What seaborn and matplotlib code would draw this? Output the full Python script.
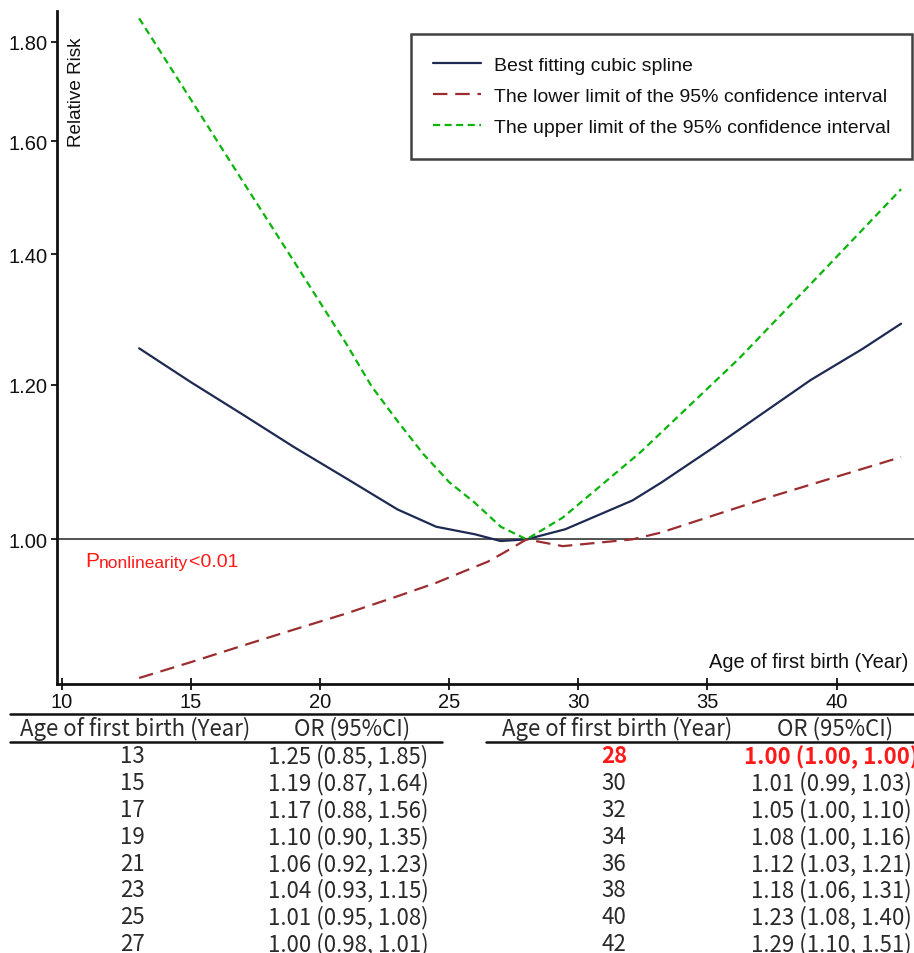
import matplotlib
matplotlib.use("Agg")
import matplotlib.pyplot as plt
from matplotlib.lines import Line2D
from matplotlib.ticker import FixedLocator, FuncFormatter, NullLocator
import seaborn as sns

# curves (age, relative risk)
age_fit = [13, 15, 17, 19, 21, 23, 24.5, 26, 27, 28, 29.5, 32.1, 33.2, 35.3, 37, 39, 41, 42.5]
rr_fit = [1.253, 1.204, 1.159, 1.115, 1.075, 1.036, 1.015, 1.006, 0.998, 1.0,
          1.012, 1.047, 1.069, 1.116, 1.157, 1.207, 1.252, 1.29]

age_lo = [13, 15, 17, 19, 21, 23, 24.5, 25.5, 26.5, 27.1, 28, 29.4, 32.1, 33.2, 37.5, 42.5]
rr_lo = [0.849, 0.865, 0.882, 0.899, 0.916, 0.935, 0.950, 0.962, 0.974, 0.984,
         1.0, 0.992, 1.0, 1.008, 1.052, 1.102]

age_up = [13, 15, 17, 19, 21, 22, 23, 24, 24.5, 25, 26, 27, 28, 29.4, 32.4, 36.2, 39.35, 42.5]
rr_up = [1.85, 1.681, 1.527, 1.388, 1.261, 1.198, 1.150, 1.106, 1.088, 1.07,
         1.044, 1.015, 1.0, 1.026, 1.108, 1.237, 1.367, 1.512]

# table values
tab_age = [13, 15, 17, 19, 21, 23, 25, 27, 28, 30, 32, 34, 36, 38, 40, 42]
tab_or = [1.25, 1.19, 1.17, 1.10, 1.06, 1.04, 1.01, 1.00, 1.00, 1.01, 1.05, 1.08, 1.12, 1.18, 1.23, 1.29]
tab_lo = [0.85, 0.87, 0.88, 0.90, 0.92, 0.93, 0.95, 0.98, 1.00, 0.99, 1.00, 1.00, 1.03, 1.06, 1.08, 1.10]
tab_hi = [1.85, 1.64, 1.56, 1.35, 1.23, 1.15, 1.08, 1.01, 1.00, 1.03, 1.10, 1.16, 1.21, 1.31, 1.40, 1.51]
ref_age = 28

yticks = [1.0, 1.2, 1.4, 1.6, 1.8]
xticks = [10, 15, 20, 25, 30, 35, 40]

sns.set_theme(style="white")
plt.rcParams["font.family"] = ["Liberation Sans", "DejaVu Sans"]

W, H = 914, 954
fig = plt.figure(figsize=(W / 100, H / 100), dpi=100)


def fx(px):
    return px / W


def fy(py):
    return 1 - py / H


ax = fig.add_axes([fx(57), fy(685), fx(914 - 57), (685 - 12) / H])

ax.axhline(1.0, color="#444444", lw=1.3, zorder=1)
sns.lineplot(x=age_fit, y=rr_fit, ax=ax, color="#1e2a52", lw=1.6,
             label="Best fitting cubic spline")
sns.lineplot(x=age_lo, y=rr_lo, ax=ax, color="#9b2d30", lw=1.6,
             linestyle=(0, (6.5, 3.5)),
             label="The lower limit of the 95% confidence interval")
sns.lineplot(x=age_up, y=rr_up, ax=ax, color="#0ab40a", lw=1.6,
             linestyle=(0, (3.2, 2.0)),
             label="The upper limit of the 95% confidence interval")

ax.set_yscale("log")
ax.set_ylim(0.843, 1.866)
ax.set_xlim(9.82, 43.0)
ax.yaxis.set_major_locator(FixedLocator(yticks))
ax.yaxis.set_major_formatter(FuncFormatter(lambda v, p: f"{v:.2f}"))
ax.yaxis.set_minor_locator(NullLocator())
ax.set_xticks(xticks)
ax.set_xlabel("")
ax.set_ylabel("")

for s in ["top", "right"]:
    ax.spines[s].set_visible(False)
for s in ["left", "bottom"]:
    ax.spines[s].set_color("#111111")
    ax.spines[s].set_linewidth(2)
ax.tick_params(axis="y", direction="out", length=4, width=1.3, labelsize=14.5,
               pad=3, colors="#111111", left=True)
ax.tick_params(axis="x", direction="inout", length=8, width=1.3, labelsize=14.5,
               pad=2, colors="#111111", bottom=True)

ax.text(0.013, 0.962, "Relative Risk", rotation=90, transform=ax.transAxes,
        ha="left", va="top", fontsize=13.6, color="#111111")
ax.text(0.993, 0.019, "Age of first birth (Year)", transform=ax.transAxes,
        ha="right", va="bottom", fontsize=14.4, color="#111111")

# P-nonlinearity note: pieces on one baseline, smaller subscript
red = "#ff1a1a"
p1 = ax.text(0.033, 0.170, "P", transform=ax.transAxes, ha="left", va="bottom",
             fontsize=15, color=red)
p2 = ax.annotate("nonlinearity", xy=(1, 0), xycoords=p1, ha="left", va="bottom",
                 fontsize=12.5, color=red)
ax.annotate("<0.01", xy=(1, 0), xycoords=p2, ha="left", va="bottom",
            fontsize=14, color=red)

leg = ax.legend(loc="upper right", bbox_to_anchor=(0.998, 0.966), fontsize=14,
                frameon=True, fancybox=False, handlelength=2.5,
                handletextpad=0.62, labelspacing=0.7, borderpad=1.15,
                borderaxespad=0)
leg.get_frame().set_edgecolor("#111111")
leg.get_frame().set_linewidth(1.8)
for t in leg.get_texts():
    t.set_color("#111111")

# table below the plot
tfont = ["Noto Sans CJK SC", "DejaVu Sans"]
tsize = 16
tcol = "#2a2a2a"
fig.add_artist(Line2D([fx(10), fx(914)], [fy(715), fy(715)], color="#111111", lw=1.8))
fig.add_artist(Line2D([fx(10), fx(442)], [fy(743), fy(743)], color="#111111", lw=1.8))
fig.add_artist(Line2D([fx(486), fx(914)], [fy(743), fy(743)], color="#111111", lw=1.8))

half = 8
for col, (cx_age, cx_or) in enumerate([(132, 348), (614, 831)]):
    fig.text(fx(cx_age + 3), fy(729), "Age of first birth (Year)", ha="center",
             va="center", family=tfont, fontsize=tsize, color=tcol)
    fig.text(fx(cx_or + 4), fy(729), "OR (95%CI)", ha="center", va="center",
             family=tfont, fontsize=tsize, color=tcol)
    for r in range(half):
        i = col * half + r
        yy = 757 + r * 26.8
        ref = tab_age[i] == ref_age
        c = red if ref else tcol
        w = "bold" if ref else "normal"
        fig.text(fx(cx_age), fy(yy), str(tab_age[i]), ha="center", va="center",
                 family=tfont, fontsize=tsize, color=c, fontweight=w)
        fig.text(fx(cx_or), fy(yy),
                 f"{tab_or[i]:.2f} ({tab_lo[i]:.2f}, {tab_hi[i]:.2f})",
                 ha="center", va="center", family=tfont, fontsize=tsize,
                 color=c, fontweight=w)

fig.savefig("out.png", dpi=100)
